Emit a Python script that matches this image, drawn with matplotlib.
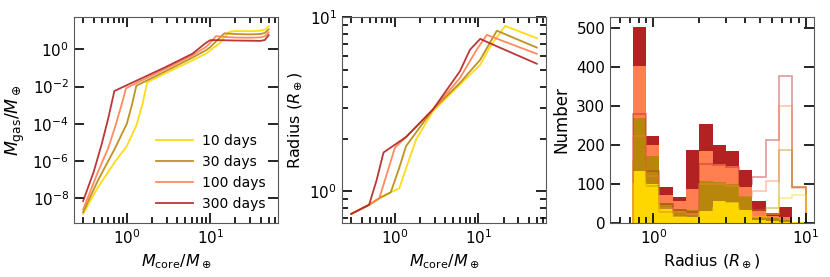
import numpy as np
import matplotlib.pyplot as plt
from matplotlib.ticker import NullFormatter

# periods and colours
periods = ['10 days', '30 days', '100 days', '300 days']
colors = ['#FFD700', '#B8860B', '#FF7F50', '#B22222']

# --- panel 1: gas mass vs core mass (log10 of M_gas) ---
mc_10 = [0.3, 0.45, 0.72, 1.0, 1.3, 1.55, 1.75, 2.9, 6.1, 8.9, 10, 12.8, 15, 17, 20, 30, 40, 45, 50]
lg_10 = [-8.84, -7.42, -6.05, -5.2, -4.1, -2.9, -1.78, -1.29, -0.6, -0.235, -0.05, 0.31, 0.7, 0.94, 0.98, 0.97, 1.0, 1.05, 1.25]
mc_30 = [0.3, 0.45, 0.72, 1.0, 1.15, 1.3, 2.9, 6.1, 8.9, 10, 12.5, 14.8, 20, 30, 40, 45, 50]
lg_30 = [-8.75, -7.05, -5.33, -4.0, -3.0, -1.96, -1.18, -0.45, -0.05, 0.12, 0.55, 0.86, 0.82, 0.80, 0.82, 0.88, 1.07]
mc_100 = [0.3, 0.45, 0.6, 0.72, 0.85, 0.98, 2.9, 6.1, 8.9, 10, 11.7, 15, 20, 30, 40, 45, 50]
lg_100 = [-8.6, -6.6, -5.3, -4.2, -3.1, -2.09, -1.05, -0.33, 0.13, 0.35, 0.71, 0.66, 0.63, 0.62, 0.64, 0.7, 0.91]
mc_300 = [0.3, 0.4, 0.5, 0.6, 0.71, 2.9, 6.1, 8.9, 10, 13, 20, 30, 40, 45, 50]
lg_300 = [-8.15, -6.6, -5.1, -3.7, -2.24, -0.96, -0.24, 0.35, 0.49, 0.49, 0.47, 0.46, 0.45, 0.5, 0.76]

# --- panel 2: radius vs core mass (log10 of R) ---
rc_10 = [0.3, 0.49, 0.65, 0.89, 1.13, 1.4, 1.8, 2.85, 6.0, 10.5, 13.8, 20.9, 50]
lr_10 = [-0.13, -0.078, -0.04, -0.006, 0.017, 0.15, 0.299, 0.46, 0.613, 0.727, 0.832, 0.95, 0.88]
rc_30 = [0.3, 0.49, 0.65, 0.89, 1.1, 1.36, 2.85, 6.0, 10.5, 16.6, 50]
lr_30 = [-0.13, -0.078, -0.04, -0.006, 0.12, 0.26, 0.47, 0.623, 0.756, 0.923, 0.826]
rc_100 = [0.3, 0.49, 0.65, 0.8, 1.0, 1.36, 2.85, 6.0, 9.5, 12.6, 50]
lr_100 = [-0.13, -0.078, -0.04, 0.1, 0.251, 0.312, 0.47, 0.651, 0.813, 0.899, 0.79]
rc_300 = [0.3, 0.49, 0.6, 0.73, 1.36, 2.85, 6.0, 7.9, 10.5, 15.1, 50]
lr_300 = [-0.13, -0.078, 0.06, 0.223, 0.312, 0.47, 0.69, 0.813, 0.876, 0.842, 0.733]

# --- panel 3: radius histograms ---
edges = np.logspace(np.log10(0.733), 1, 14)
fill_10 = [135, 100, 36, 17, 17, 32, 57, 54, 34, 9, 6, 4, 3]
fill_30 = [269, 173, 51, 36, 33, 109, 105, 101, 69, 17, 13, 9, 4]
fill_100 = [404, 201, 73, 57, 88, 186, 153, 148, 94, 32, 19, 17, 2]
fill_300 = [504, 225, 94, 67, 189, 255, 200, 186, 137, 57, 26, 42, 4]
line_10 = [100, 70, 25, 15, 12, 30, 40, 40, 25, 15, 25, 64, 73]
line_30 = [160, 95, 30, 22, 18, 60, 60, 55, 40, 35, 38, 188, 94]
line_100 = [224, 120, 40, 30, 25, 100, 100, 95, 70, 83, 109, 300, 90]
line_300 = [280, 133, 50, 35, 30, 152, 150, 145, 100, 118, 213, 378, 92]

plt.rcParams['font.size'] = 11
plt.rcParams['mathtext.fontset'] = 'dejavusans'

fig, axs = plt.subplots(1, 3, figsize=(8.3, 2.77), dpi=100)
fig.subplots_adjust(left=0.089, right=0.981, bottom=0.194, top=0.94, wspace=0.314)
ax0, ax1, ax2 = axs

mgas = [(mc_10, lg_10), (mc_30, lg_30), (mc_100, lg_100), (mc_300, lg_300)]
for (x, y), c, lab in zip(mgas, colors, periods):
    ax0.plot(x, 10**np.array(y), color=c, lw=1.3, alpha=0.9, label=lab)
ax0.set_xscale('log')
ax0.set_yscale('log')
ax0.set_yticks([1e-8, 1e-6, 1e-4, 1e-2, 1e0])
ax0.set_xlabel(r'$M_{\rm core}/M_\oplus$', fontsize=11.5)
ax0.set_ylabel(r'$M_{\rm gas}/M_\oplus$', fontsize=12.5)
ax0.legend(loc='lower right', frameon=False, handlelength=2.7, labelspacing=0.5,
           handletextpad=0.6, borderaxespad=0.5, fontsize=10)

rad = [(rc_10, lr_10), (rc_30, lr_30), (rc_100, lr_100), (rc_300, lr_300)]
for (x, y), c in zip(rad, colors):
    ax1.plot(x, 10**np.array(y), color=c, lw=1.3, alpha=0.9)
ax1.set_xscale('log')
ax1.set_yscale('log')
ax1.yaxis.set_minor_formatter(NullFormatter())
ax1.set_xlabel(r'$M_{\rm core}/M_\oplus$', fontsize=11.5)
ax1.set_ylabel(r'Radius ($R_\oplus$)', fontsize=11.5)

fills = [fill_300, fill_100, fill_30, fill_10]
for vals, c in zip(fills, colors[::-1]):
    ax2.stairs(vals, edges, fill=True, color=c)
lines = [line_300, line_100, line_30, line_10]
for vals, c in zip(lines, colors[::-1]):
    ax2.stairs(vals, edges, fill=False, color=c, alpha=0.45, lw=1.2)
ax2.set_xscale('log')
ax2.set_xlim(0.52, 11.4)
ax2.set_ylim(0, 530)
ax2.set_yticks([0, 100, 200, 300, 400, 500])
ax2.set_xlabel(r'Radius ($R_\oplus$)', fontsize=11.5)
ax2.set_ylabel('Number', fontsize=12)

for ax in axs:
    ax.tick_params(which='both', direction='in', top=True, right=True, width=1.2)
    ax.tick_params(which='major', length=7)
    ax.tick_params(which='minor', length=4)
    for s in ax.spines.values():
        s.set_color('0.35')
        s.set_linewidth(0.8)

fig.savefig('out.png', dpi=100)
